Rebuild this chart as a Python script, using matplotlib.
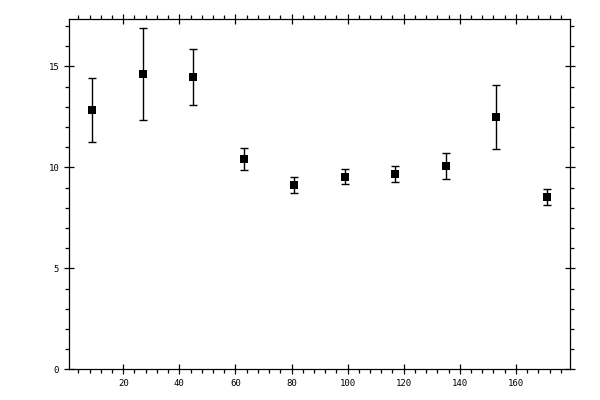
import matplotlib
matplotlib.use("Agg")
import matplotlib.pyplot as plt
from matplotlib.ticker import MultipleLocator

x = [9, 27, 45, 63, 81, 99, 117, 135, 153, 171]
y = [12.82, 14.60, 14.46, 10.40, 9.11, 9.50, 9.65, 10.05, 12.47, 8.51]
err_hi = [14.41, 16.88, 15.84, 10.94, 9.54, 9.90, 10.05, 10.69, 14.06, 8.91]
err_lo = [11.24, 12.33, 13.07, 9.85, 8.73, 9.16, 9.26, 9.41, 10.89, 8.13]

yerr = [[v - lo for v, lo in zip(y, err_lo)], [hi - v for v, hi in zip(y, err_hi)]]

fig = plt.figure(figsize=(6, 4), dpi=100)
ax = fig.add_axes([69.3 / 600, 1 - 369.3 / 400, (570 - 69.3) / 600, (369.3 - 19.3) / 400])

ax.errorbar(x, y, yerr=yerr, fmt='none', ecolor='black',
            elinewidth=1.0, capsize=2.6, capthick=1.0)
ax.plot(x, y, 's', color='black', ms=5.2, mew=0, zorder=3)

ax.set_xlim(0.75, 179.3)
ax.set_ylim(0, 17.33)
ax.xaxis.set_major_locator(MultipleLocator(20))
ax.xaxis.set_minor_locator(MultipleLocator(4))
ax.yaxis.set_major_locator(MultipleLocator(5))
ax.yaxis.set_minor_locator(MultipleLocator(1))

for s in ax.spines.values():
    s.set_linewidth(0.9)

ax.tick_params(which='major', direction='inout', length=6.5, width=0.9,
               top=True, right=True, labelsize=6.5, pad=4)
ax.tick_params(which='minor', direction='out', length=2.8, width=0.9,
               top=True, right=True)
for lab in ax.get_xticklabels() + ax.get_yticklabels():
    lab.set_family('DejaVu Sans Mono')

fig.savefig('out.png', dpi=100)
